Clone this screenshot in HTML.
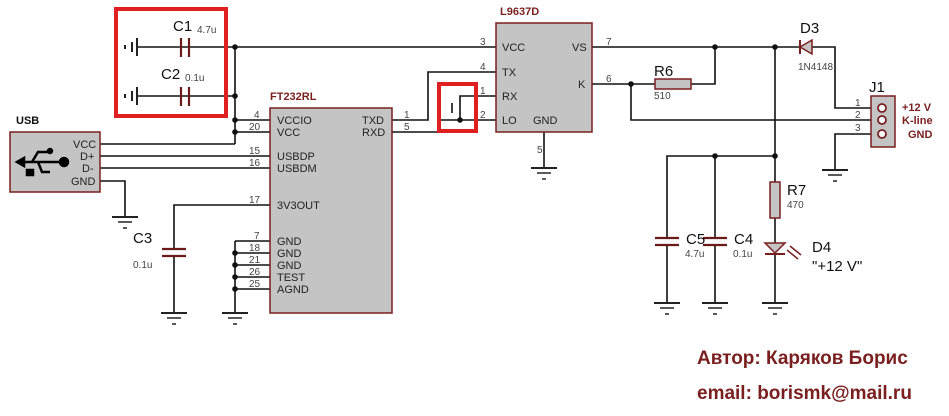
<!DOCTYPE html>
<html><head><meta charset="utf-8"><style>
body{margin:0;background:#fff}
svg text{font-family:"Liberation Sans",sans-serif}
</style></head><body>
<svg width="949" height="411" viewBox="0 0 949 411" xmlns="http://www.w3.org/2000/svg">
<defs>
<g id="gnd"><line x1="-13" y1="0" x2="13" y2="0" stroke="#222" stroke-width="2"/><line x1="-7" y1="5" x2="7" y2="5" stroke="#222" stroke-width="1.5"/><line x1="-2" y1="11" x2="2" y2="11" stroke="#222" stroke-width="1.5"/></g>
</defs>
<g stroke="#111" stroke-width="1.6" fill="none">
<line x1="137" y1="47" x2="496" y2="47"/>
<line x1="137" y1="96" x2="235" y2="96"/>
<line x1="235" y1="47" x2="235" y2="144"/>
<line x1="235" y1="120" x2="270" y2="120"/>
<line x1="235" y1="132" x2="270" y2="132"/>
<line x1="100" y1="144" x2="235" y2="144"/>
<line x1="100" y1="156" x2="270" y2="156"/>
<line x1="100" y1="168" x2="270" y2="168"/>
<polyline points="100,181 125,181 125,217"/>
<polyline points="270,205 174,205 174,249"/>
<line x1="174" y1="256" x2="174" y2="313"/>
<line x1="235" y1="241" x2="235" y2="313"/>
<line x1="235" y1="241" x2="270" y2="241"/>
<line x1="235" y1="253" x2="270" y2="253"/>
<line x1="235" y1="265" x2="270" y2="265"/>
<line x1="235" y1="277" x2="270" y2="277"/>
<line x1="235" y1="289" x2="270" y2="289"/>
<polyline points="392,120 428,120 428,72 496,72"/>
<polyline points="392,132 438,132"/>
<line x1="438" y1="120" x2="496" y2="120"/>
<polyline points="460,120 460,96 496,96"/>
<line x1="452" y1="103" x2="452" y2="113"/>
<line x1="592" y1="47" x2="800" y2="47"/>
<polyline points="812,47 835,47 835,108 876,108"/>
<line x1="592" y1="84" x2="655" y2="84"/>
<polyline points="691,84 715,84 715,47"/>
<polyline points="631,84 631,120 876,120"/>
<polyline points="876,134 835,134 835,170"/>
<line x1="544" y1="132" x2="544" y2="168"/>
<line x1="775" y1="47" x2="775" y2="182"/>
<polyline points="667,238 667,156 775,156"/>
<line x1="715" y1="156" x2="715" y2="238"/>
<line x1="667" y1="245" x2="667" y2="303"/>
<line x1="715" y1="245" x2="715" y2="303"/>
<line x1="775" y1="218" x2="775" y2="303"/>
</g>
<g fill="#111">
<circle cx="235" cy="47" r="2.8"/><circle cx="235" cy="96" r="2.8"/><circle cx="235" cy="120" r="2.8"/><circle cx="235" cy="132" r="2.8"/>
<circle cx="235" cy="253" r="2.8"/><circle cx="235" cy="265" r="2.8"/><circle cx="235" cy="277" r="2.8"/><circle cx="235" cy="289" r="2.8"/>
<circle cx="460" cy="120" r="2.8"/><circle cx="631" cy="84" r="2.8"/><circle cx="715" cy="47" r="2.8"/><circle cx="775" cy="47" r="2.8"/>
<circle cx="715" cy="156" r="2.8"/><circle cx="775" cy="156" r="2.8"/>
</g>
<g stroke="#6b1a1a" stroke-width="2.2">
<line x1="181" y1="38" x2="181" y2="57"/><line x1="189" y1="38" x2="189" y2="57"/>
<line x1="181" y1="87" x2="181" y2="106"/><line x1="189" y1="87" x2="189" y2="106"/>
<line x1="162" y1="249" x2="186" y2="249"/><line x1="162" y1="256" x2="186" y2="256"/>
<line x1="655" y1="238" x2="679" y2="238"/><line x1="655" y1="245" x2="679" y2="245"/>
<line x1="703" y1="238" x2="727" y2="238"/><line x1="703" y1="245" x2="727" y2="245"/>
</g>
<g stroke="#222" stroke-width="2"><line x1="137" y1="38" x2="137" y2="56"/><line x1="132" y1="42" x2="132" y2="52"/><line x1="137" y1="87" x2="137" y2="105"/><line x1="132" y1="91" x2="132" y2="101"/></g>
<g fill="#222"><rect x="124" y="45" width="2" height="4"/><rect x="124" y="94" width="2" height="4"/></g>
<use href="#gnd" x="125" y="217"/><use href="#gnd" x="174" y="313"/><use href="#gnd" x="235" y="313"/>
<use href="#gnd" x="544" y="168"/><use href="#gnd" x="835" y="170"/>
<use href="#gnd" x="667" y="303"/><use href="#gnd" x="715" y="303"/><use href="#gnd" x="775" y="303"/>
<rect x="116" y="9" width="110" height="107" fill="none" stroke="#e02020" stroke-width="4"/>
<rect x="439" y="84" width="37" height="47" fill="none" stroke="#e02020" stroke-width="4"/>
<rect x="270" y="108" width="122" height="205" fill="#c4c4c4" stroke="#7a1f1f" stroke-width="1.5"/>
<rect x="496" y="23" width="96" height="109" fill="#c4c4c4" stroke="#7a1f1f" stroke-width="1.5"/>
<rect x="10" y="132" width="90" height="60" fill="#c4c4c4" stroke="#7a1f1f" stroke-width="1.5"/>
<rect x="655" y="79" width="36" height="10" fill="#c4c4c4" stroke="#7a1f1f" stroke-width="1.5"/>
<rect x="770" y="182" width="10" height="36" fill="#c4c4c4" stroke="#7a1f1f" stroke-width="1.5"/>
<rect x="871" y="96" width="24" height="51" fill="#c4c4c4" stroke="#7a1f1f" stroke-width="1.5"/>
<g fill="#fff" stroke="#7a1f1f" stroke-width="1.8"><circle cx="882" cy="108" r="4"/><circle cx="882" cy="120" r="4"/><circle cx="882" cy="134" r="4"/></g>
<g stroke="#000" stroke-width="2.5" fill="#000"><line x1="20" y1="162" x2="62" y2="162"/><polyline fill="none" points="32,162 38,152 48,152"/><polyline fill="none" points="38,162 42,172 50,172"/><circle cx="64" cy="162" r="4"/><circle cx="50" cy="151" r="2"/><rect x="27" y="170" width="6" height="5"/><polygon points="17,162 24,158 24,166"/></g>
<polygon points="800,47 812,40 812,54" fill="#c4c4c4" stroke="#7a1f1f" stroke-width="1.5"/><line x1="800" y1="40" x2="800" y2="54" stroke="#7a1f1f" stroke-width="2"/>
<polygon points="765,243 785,243 775,253" fill="#c4c4c4" stroke="#7a1f1f" stroke-width="1.5"/><line x1="765" y1="254" x2="785" y2="254" stroke="#7a1f1f" stroke-width="2"/>
<g stroke="#7a1f1f" stroke-width="1.5"><line x1="787" y1="250" x2="798" y2="259"/><line x1="790" y1="246" x2="801" y2="255"/></g>
<g font-size="11" fill="#222">
<text x="277" y="124">VCCIO</text><text x="277" y="136">VCC</text><text x="277" y="160">USBDP</text><text x="277" y="172">USBDM</text><text x="277" y="209">3V3OUT</text>
<text x="277" y="245">GND</text><text x="277" y="257">GND</text><text x="277" y="269">GND</text><text x="277" y="281">TEST</text><text x="277" y="293">AGND</text>
<text x="362" y="124">TXD</text><text x="362" y="136">RXD</text>
<text x="73" y="148">VCC</text><text x="80" y="160">D+</text><text x="82" y="172">D-</text><text x="71" y="185">GND</text>
<text x="502" y="51">VCC</text><text x="502" y="76">TX</text><text x="502" y="100">RX</text><text x="502" y="124">LO</text><text x="533" y="124">GND</text>
<text x="572" y="51">VS</text><text x="578" y="88">K</text>
</g>
<g font-size="10" fill="#444">
<text x="254" y="118">4</text><text x="249" y="130">20</text><text x="249" y="154">15</text><text x="249" y="166">16</text><text x="249" y="203">17</text>
<text x="254" y="239">7</text><text x="249" y="251">18</text><text x="249" y="263">21</text><text x="249" y="275">26</text><text x="249" y="287">25</text>
<text x="404" y="118">1</text><text x="404" y="130">5</text>
<text x="480" y="45">3</text><text x="480" y="70">4</text><text x="480" y="94">1</text><text x="480" y="118">2</text><text x="537" y="153">5</text>
<text x="606" y="45">7</text><text x="606" y="82">6</text>
<text x="855" y="106">1</text><text x="855" y="118">2</text><text x="855" y="131">3</text>
<text x="197" y="33">4.7u</text><text x="185" y="81">0.1u</text><text x="133" y="268">0.1u</text>
<text x="654" y="99">510</text><text x="787" y="208">470</text><text x="685" y="257">4.7u</text><text x="733" y="257">0.1u</text><text x="798" y="70">1N4148</text>
</g>
<g font-size="15" fill="#111">
<text x="173" y="31">C1</text><text x="161" y="79">C2</text><text x="133" y="243">C3</text>
<text x="654" y="76">R6</text><text x="787" y="195">R7</text><text x="686" y="244">C5</text><text x="734" y="244">C4</text>
<text x="800" y="33">D3</text><text x="869" y="92">J1</text><text x="812" y="252">D4</text><text x="812" y="271">"+12 V"</text>
</g>
<g font-weight="bold" fill="#7a1f1f" font-size="11">
<text x="270" y="100">FT232RL</text><text x="500" y="15">L9637D</text>
<text x="902" y="111">+12 V</text><text x="902" y="124">K-line</text><text x="908" y="138">GND</text>
</g>
<text x="16" y="124" font-size="11" font-weight="bold" fill="#111">USB</text>
<text x="697" y="364" font-size="19" font-weight="bold" fill="#7a1f1f">Автор: Каряков Борис</text>
<text x="697" y="399" font-size="19" font-weight="bold" fill="#7a1f1f">email: borismk@mail.ru</text>
</svg>
</body></html>
